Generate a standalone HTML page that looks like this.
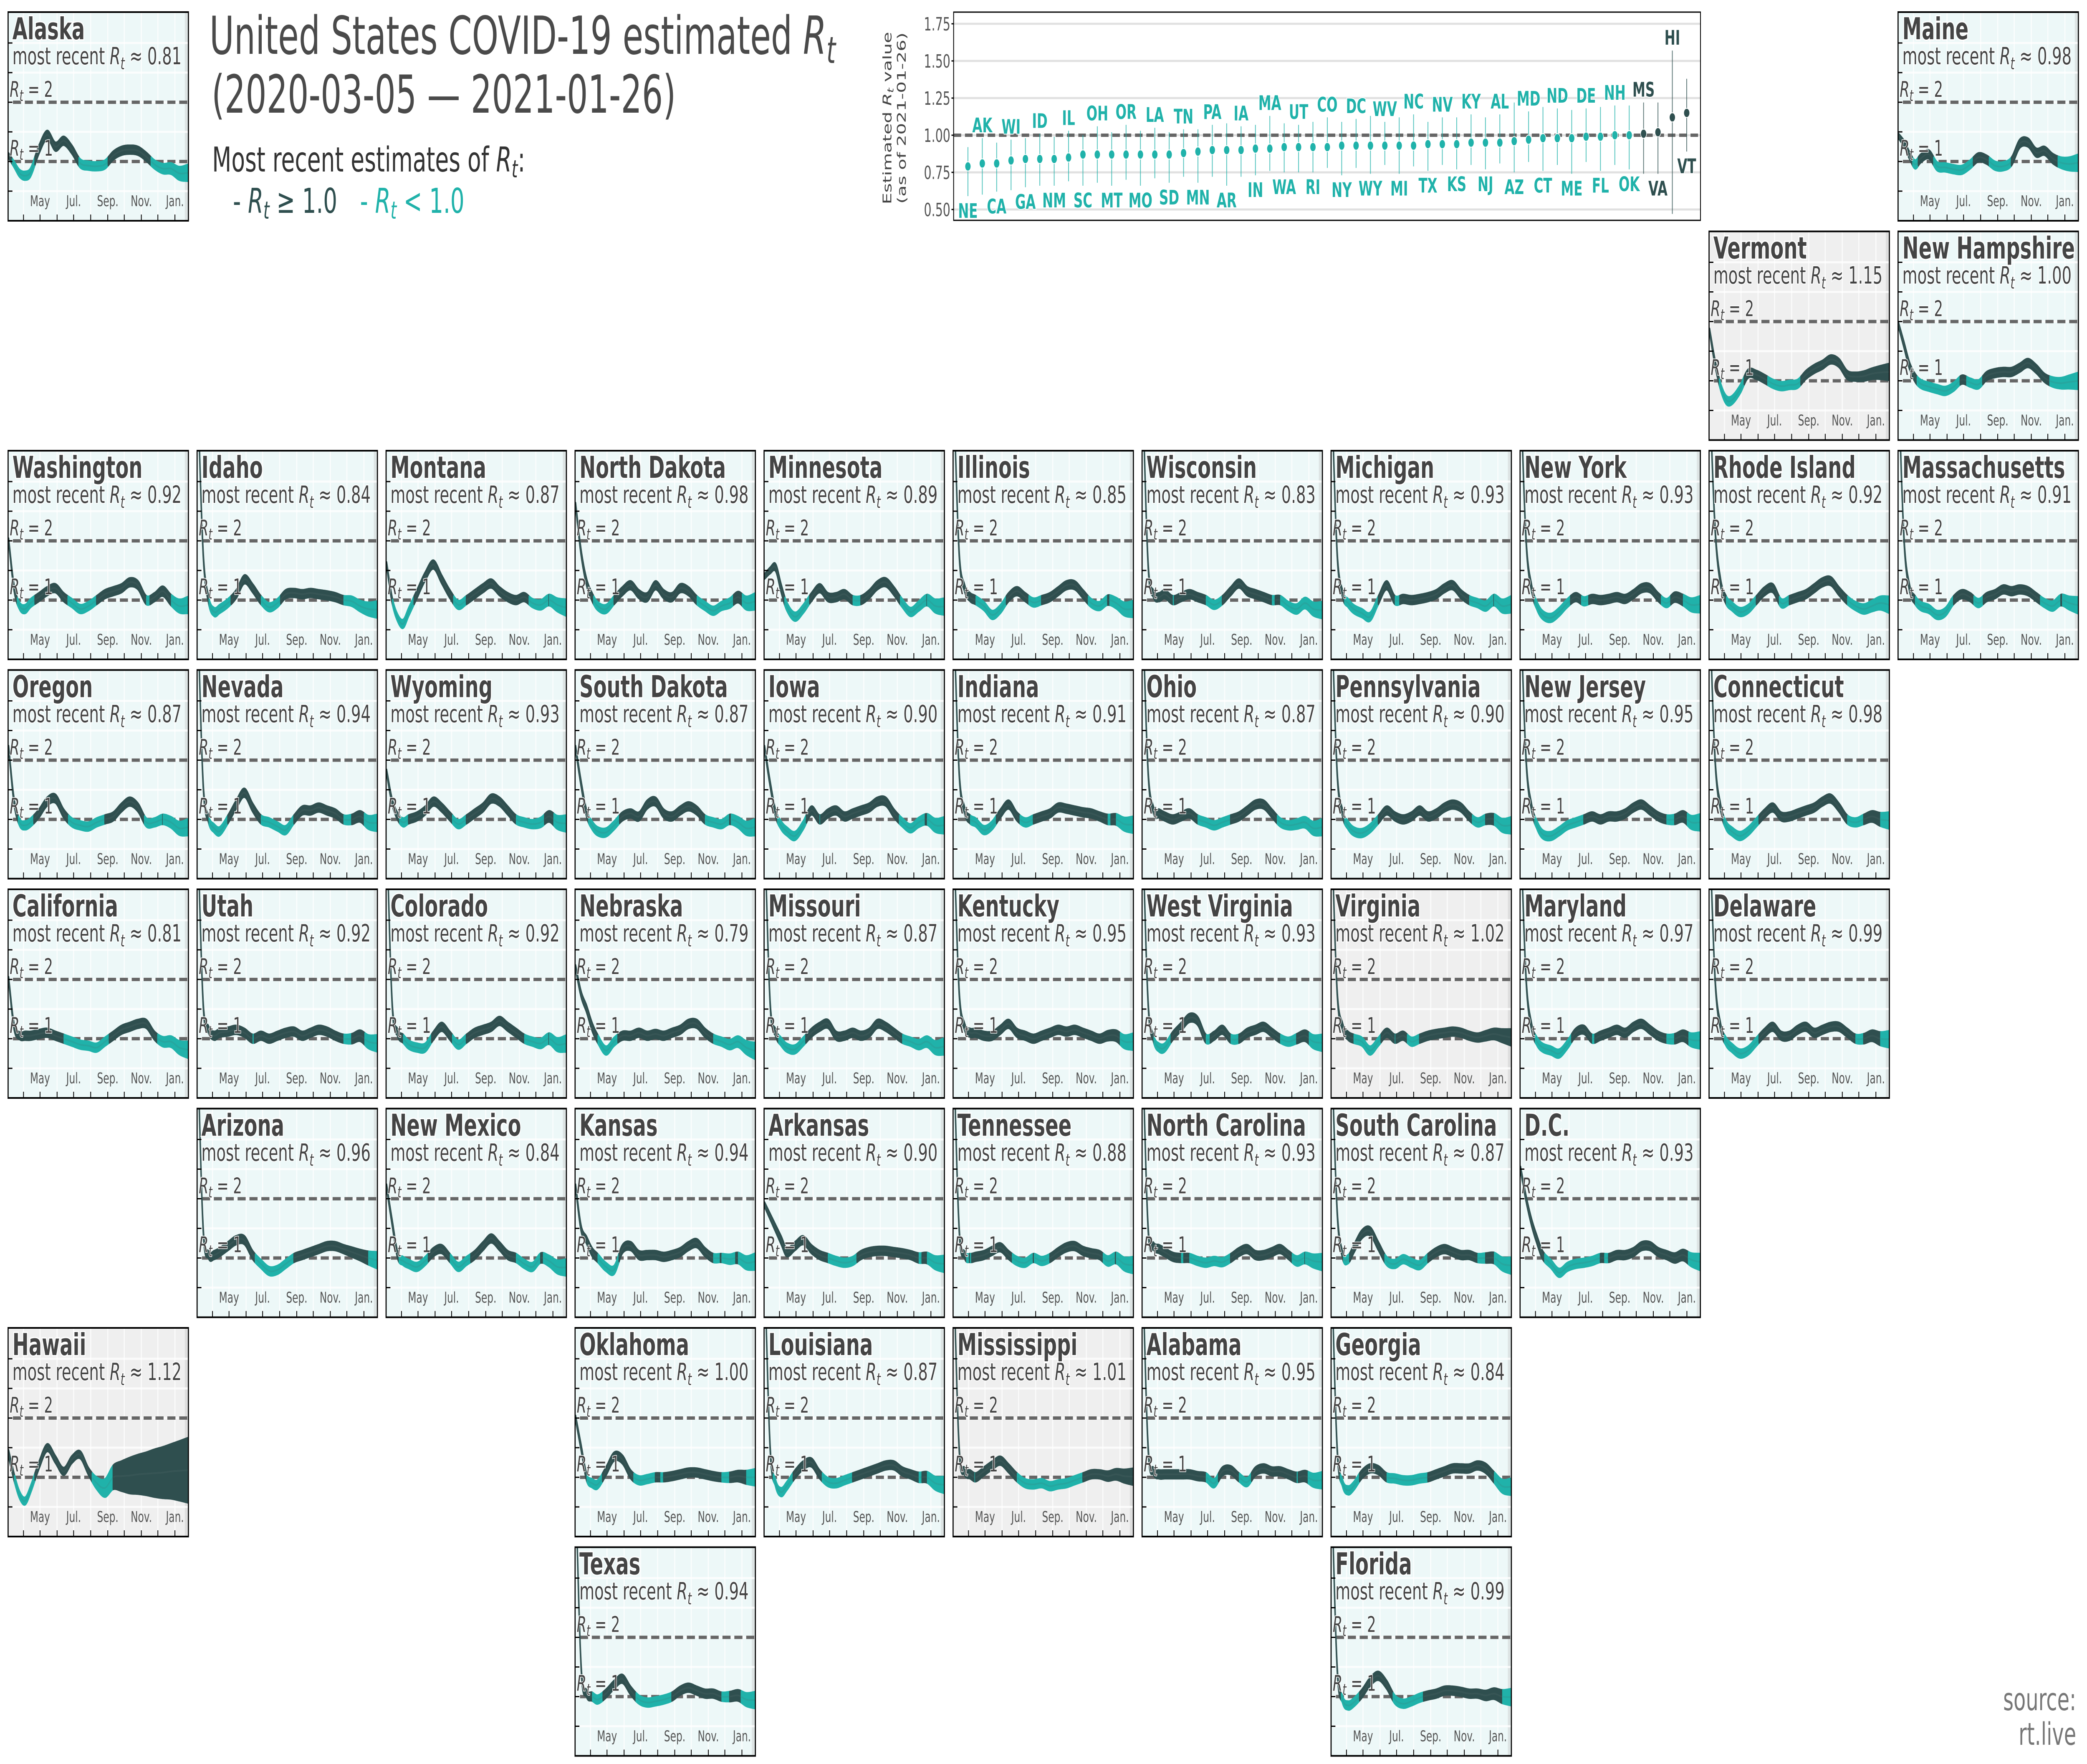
<!DOCTYPE html>
<html><head><meta charset="utf-8"><title>US COVID-19 Rt</title>
<style>
html,body{margin:0;padding:0;background:#fff;overflow:hidden;width:100vw;height:100vh;}
svg{display:block;font-family:"DejaVu Sans","Liberation Sans",sans-serif;width:100vw;height:100vh;}
</style></head>
<body>
<svg id="chart" xmlns="http://www.w3.org/2000/svg" viewBox="0 0 7732 4227" preserveAspectRatio="none">
<rect x="0" y="0" width="7732" height="4227" fill="#ffffff"/>
<g fill="#4a4a4a">
<text x="776" y="129" font-size="126" textLength="2320" lengthAdjust="spacingAndGlyphs">United States COVID-19 estimated <tspan font-style="italic">R</tspan><tspan font-style="italic" font-size="88" dy="22">t</tspan></text>
<text x="784" y="270" font-size="126" textLength="1720" lengthAdjust="spacingAndGlyphs">(2020-03-05 — 2021-01-26)</text>
</g>
<g>
<text x="786" y="411" font-size="82" fill="#333" textLength="1160" lengthAdjust="spacingAndGlyphs">Most recent estimates of <tspan font-style="italic">R</tspan><tspan font-style="italic" font-size="58" dy="14">t</tspan><tspan dy="-14">:</tspan></text>
<text x="863" y="510" font-size="82" fill="#2f4f4f">- <tspan font-style="italic">R</tspan><tspan font-style="italic" font-size="58" dy="14">t</tspan><tspan dy="-14"> ≥ 1.0</tspan></text>
<text x="1334" y="510" font-size="82" fill="#20b2aa">- <tspan font-style="italic">R</tspan><tspan font-style="italic" font-size="58" dy="14">t</tspan><tspan dy="-14"> &lt; 1.0</tspan></text>
</g>
<g fill="#777" font-size="74" text-anchor="end">
<text x="7692" y="4098">source:</text>
<text x="7692" y="4181">rt.live</text>
</g>
<g id="dotchart"></g>
<g id="tiles"></g>
</svg>
<script>
// ---------- shared time axis ----------
const sampleDays = [0,10,20,30,40,55,70,85,100,115,130,145,160,175,190,205,220,235,250,265,280,295,310,327];
const bandHalf = [0.04,0.05,0.06,0.07,0.07,0.07,0.07,0.07,0.07,0.07,0.07,0.07,0.07,0.07,0.07,0.07,0.07,0.07,0.07,0.07,0.08,0.09,0.11,0.14];
const hawaiiBand = [0.06,0.06,0.06,0.06,0.06,0.06,0.06,0.06,0.06,0.06,0.06,0.06,0.10,0.15,0.20,0.25,0.30,0.33,0.36,0.40,0.43,0.46,0.50,0.55];
const monthTickDays = [27,57,88,118,149,180,210,241,271,302];
const monthLabelDays = [57,118,180,241,302];
const monthLabels = ["May","Jul.","Sep.","Nov.","Jan."];
const yGridValues = [0.5,1,1.5,2,2.5,3];

// ---------- per-state Rt series (values at sampleDays) ----------
const rtAK = [1.1,0.95,0.8,0.76,0.82,1.2,1.45,1.25,1.35,1.2,0.97,0.93,0.92,0.95,1.1,1.18,1.2,1.18,1.08,0.95,0.88,0.88,0.8,0.81];
const rtME = [1.43,1.3,1.1,0.95,1.05,1.12,0.92,0.9,0.87,0.86,0.95,1.07,1.03,0.93,0.92,1.0,1.3,1.32,1.15,1.18,1.05,0.98,0.96,0.98];
const rtVT = [1.84,1.3,0.9,0.68,0.67,0.85,1.12,1.1,1.03,0.95,0.91,0.93,0.95,1.1,1.2,1.27,1.36,1.3,1.1,1.07,1.08,1.12,1.14,1.15];
const rtNH = [1.94,1.6,1.25,1.05,0.95,0.9,0.86,0.83,0.9,1.02,0.97,0.94,1.08,1.13,1.15,1.15,1.22,1.3,1.2,1.05,0.98,0.96,0.98,1.0];
const rtWA = [2.0,1.2,0.9,0.85,0.95,1.05,1.15,1.2,1.05,0.95,0.85,0.9,1.0,1.1,1.15,1.2,1.3,1.25,1.0,1.05,1.15,1.0,0.9,0.92];
const rtID = [4.5,1.8,1.0,0.8,0.85,0.95,1.1,1.35,1.2,1.0,0.88,0.95,1.1,1.12,1.1,1.12,1.1,1.08,1.05,1.0,0.98,0.9,0.85,0.84];
const rtMT = [1.6,1.0,0.7,0.6,0.8,1.1,1.4,1.6,1.35,1.1,0.92,1.0,1.1,1.2,1.28,1.15,1.05,1.0,1.05,0.95,0.92,1.0,0.92,0.87];
const rtND = [2.6,1.8,1.3,1.05,0.9,0.85,1.0,1.15,1.25,1.1,1.05,1.25,1.1,1.05,1.2,1.15,1.0,0.9,0.82,0.9,0.95,1.05,0.95,0.98];
const rtMN = [1.4,1.5,1.55,1.2,0.9,0.72,0.85,1.05,1.2,1.05,1.05,1.1,1.0,1.0,1.1,1.25,1.3,1.15,0.95,0.8,0.9,1.0,0.9,0.89];
const rtIL = [4.5,1.8,1.2,1.05,1.0,0.9,0.75,0.85,1.05,1.15,1.05,0.96,1.0,1.05,1.15,1.25,1.25,1.1,0.95,0.9,1.0,0.95,0.85,0.85];
const rtWI = [4.5,1.6,1.1,1.05,1.1,1.0,1.05,1.1,1.05,1.0,0.92,1.0,1.15,1.28,1.15,1.1,1.05,1.0,1.0,0.9,0.85,0.95,0.85,0.83];
const rtMI = [4.5,1.8,1.1,0.95,0.85,0.78,0.72,1.0,1.25,1.0,1.02,1.0,1.02,1.05,1.1,1.2,1.25,1.1,1.0,0.95,0.9,1.0,0.9,0.93];
const rtNY = [4.5,2.0,1.2,0.9,0.75,0.7,0.8,0.95,1.05,0.98,1.02,1.0,1.02,1.05,1.02,1.1,1.2,1.2,1.05,0.95,1.05,1.0,0.92,0.93];
const rtRI = [4.5,2.2,1.3,1.0,0.9,0.8,0.85,1.0,1.15,1.2,0.95,1.0,1.05,1.1,1.2,1.3,1.32,1.15,1.0,0.9,0.85,0.9,0.95,0.92];
const rtMA = [4.5,2.0,1.2,1.0,0.9,0.85,0.75,0.8,1.0,1.1,1.05,0.95,1.05,1.1,1.18,1.15,1.18,1.15,1.05,0.95,0.9,1.0,0.95,0.91];
const rtOR = [2.2,1.3,0.95,0.9,0.95,1.1,1.3,1.35,1.1,0.95,0.9,0.88,0.95,1.0,1.05,1.2,1.3,1.2,0.95,0.95,1.0,0.95,0.85,0.87];
const rtNV = [4.5,1.6,1.0,0.85,0.8,1.0,1.25,1.45,1.2,1.0,0.95,0.88,0.82,1.0,1.15,1.15,1.2,1.15,1.1,1.0,1.0,1.05,0.95,0.94];
const rtWY = [1.8,1.3,1.05,0.95,1.0,1.05,1.15,1.3,1.2,1.05,0.92,1.0,1.1,1.2,1.35,1.3,1.15,1.0,0.95,0.92,0.95,1.05,0.95,0.93];
const rtSD = [2.2,1.6,1.1,0.9,0.8,0.78,0.9,1.05,1.1,1.05,1.25,1.3,1.1,1.05,1.15,1.22,1.15,1.0,0.95,0.92,1.0,0.95,0.85,0.87];
const rtIA = [2.2,1.6,1.1,0.9,0.8,0.72,0.9,1.15,1.0,1.1,1.15,1.05,1.1,1.15,1.2,1.3,1.3,1.1,0.95,0.85,0.95,1.0,0.9,0.9];
const rtIN = [4.5,1.8,1.15,1.0,0.95,0.82,0.9,1.1,1.25,1.05,0.95,1.0,1.05,1.1,1.2,1.18,1.15,1.12,1.1,1.05,1.0,1.0,0.92,0.91];
const rtOH = [4.5,1.8,1.15,1.1,1.05,1.0,1.05,1.1,1.0,0.95,0.9,0.95,1.0,1.05,1.15,1.25,1.25,1.1,0.95,0.9,0.92,0.95,0.85,0.87];
const rtPA = [4.5,1.8,1.1,0.9,0.8,0.77,0.85,1.0,1.15,1.05,1.0,1.05,1.15,1.05,1.1,1.2,1.25,1.2,1.05,0.95,1.0,1.0,0.9,0.9];
const rtNJ = [4.5,2.0,1.2,0.9,0.75,0.72,0.8,0.9,0.95,1.0,1.05,1.0,1.05,1.05,1.1,1.2,1.25,1.15,1.05,1.0,1.0,1.05,0.95,0.95];
const rtCT = [4.5,2.0,1.2,0.9,0.8,0.72,0.8,0.95,1.1,1.2,1.05,1.05,1.1,1.15,1.2,1.3,1.35,1.2,1.0,0.95,1.0,1.05,1.0,0.98];
const rtCA = [2.0,1.2,1.05,1.05,1.05,1.08,1.1,1.05,1.0,0.95,0.9,0.88,0.85,0.95,1.05,1.15,1.2,1.25,1.25,1.05,0.95,0.95,0.85,0.81];
const rtUT = [4.5,1.6,1.15,1.05,1.1,1.12,1.15,1.1,1.0,1.05,1.0,1.05,1.1,1.12,1.05,1.1,1.15,1.12,1.05,1.0,1.0,1.05,0.95,0.92];
const rtCO = [4.5,1.6,1.1,1.0,0.9,0.85,0.85,1.05,1.2,1.05,0.9,1.0,1.1,1.15,1.2,1.3,1.2,1.1,1.0,0.95,0.92,1.0,0.9,0.92];
const rtNE = [2.2,1.75,1.5,1.2,1.0,0.8,0.95,1.05,1.05,1.1,1.05,1.08,1.05,1.1,1.15,1.25,1.25,1.1,1.0,0.95,0.9,0.95,0.85,0.79];
const rtMO = [4.5,1.6,1.1,0.95,0.85,0.82,0.95,1.1,1.2,1.25,1.05,1.05,1.1,1.05,1.1,1.25,1.2,1.1,1.0,0.95,0.9,0.95,0.85,0.87];
const rtKY = [4.5,1.8,1.2,1.1,1.1,1.05,1.05,1.15,1.25,1.1,1.05,1.0,1.05,1.1,1.15,1.12,1.15,1.1,1.05,1.0,1.05,1.05,0.95,0.95];
const rtWV = [4.5,1.6,1.0,0.85,0.85,1.05,1.2,1.35,1.3,1.0,1.05,1.15,1.0,1.0,1.1,1.15,1.2,1.1,1.0,0.95,1.0,1.05,0.95,0.93];
const rtVA = [4.5,1.8,1.2,1.05,1.0,0.95,0.8,0.95,1.1,1.0,1.05,0.95,1.0,1.05,1.08,1.1,1.12,1.1,1.05,1.02,1.05,1.08,1.05,1.02];
const rtMD = [4.5,2.0,1.2,0.95,0.85,0.8,0.75,0.9,1.1,1.15,1.0,1.05,1.1,1.15,1.1,1.2,1.25,1.15,1.05,1.0,1.0,1.05,0.98,0.97];
const rtDE = [4.5,2.0,1.2,0.95,0.85,0.75,0.8,0.95,1.1,1.2,1.05,1.05,1.15,1.2,1.1,1.15,1.2,1.2,1.1,1.0,1.0,1.05,1.0,0.99];
const rtAZ = [4.5,1.5,1.05,1.05,1.1,1.2,1.3,1.3,1.05,0.9,0.78,0.8,0.9,1.0,1.05,1.1,1.15,1.2,1.2,1.15,1.1,1.05,1.0,0.96];
const rtNM = [2.2,1.6,1.05,0.95,0.9,0.85,0.95,1.1,1.15,1.0,0.85,0.95,1.05,1.2,1.33,1.2,1.05,1.0,0.9,0.85,1.0,0.95,0.85,0.84];
const rtKS = [2.2,1.5,1.3,1.1,1.0,0.85,0.8,1.15,1.2,1.05,1.05,1.05,1.02,1.05,1.1,1.2,1.25,1.1,1.0,1.0,0.98,1.0,0.92,0.94];
const rtAR = [1.9,1.7,1.5,1.3,1.1,1.2,1.3,1.15,1.05,1.0,0.95,0.92,0.95,1.05,1.1,1.12,1.12,1.1,1.08,1.05,1.0,1.0,0.92,0.9];
const rtTN = [4.5,1.5,1.05,1.0,1.02,1.05,1.12,1.18,1.05,0.95,0.92,1.0,0.95,1.0,1.1,1.18,1.2,1.12,1.08,1.05,0.95,1.0,0.9,0.88];
const rtNC = [4.5,1.5,1.2,1.15,1.1,1.02,1.0,1.0,0.95,0.92,0.95,0.93,1.0,1.1,1.15,1.05,1.05,1.1,1.15,1.05,0.95,1.0,0.95,0.93];
const rtSC = [4.5,1.8,1.05,0.98,1.15,1.4,1.45,1.2,0.95,0.9,0.98,0.92,0.88,1.0,1.1,1.15,1.1,1.05,1.05,1.0,1.0,1.0,0.9,0.87];
const rtDC = [2.5,2.0,1.6,1.3,1.05,0.9,0.75,0.85,0.9,0.92,0.95,1.0,1.0,1.05,1.05,1.1,1.2,1.2,1.1,1.05,1.0,1.05,0.97,0.93];
const rtHI = [1.4,1.0,0.7,0.6,0.8,1.2,1.5,1.3,1.1,1.3,1.38,1.1,0.9,0.82,1.0,1.02,1.03,1.05,1.06,1.07,1.08,1.1,1.11,1.12];
const rtOK = [2.0,1.5,1.0,0.9,0.88,1.1,1.35,1.3,1.05,0.95,0.97,1.0,1.0,1.02,1.05,1.08,1.08,1.05,1.02,1.0,1.0,1.02,1.0,1.0];
const rtLA = [4.5,1.5,0.9,0.75,0.85,1.05,1.2,1.25,1.05,0.92,0.9,0.95,1.0,1.05,1.1,1.15,1.2,1.2,1.1,1.05,1.0,1.0,0.9,0.87];
const rtMS = [4.5,1.5,1.1,1.05,1.0,1.1,1.2,1.28,1.15,1.0,0.9,0.88,0.9,0.85,0.88,0.9,0.95,1.0,1.05,1.05,1.02,1.05,1.02,1.01];
const rtAL = [4.5,1.5,1.1,1.05,1.05,1.05,1.05,1.05,1.02,1.0,0.9,1.1,1.12,1.0,0.92,1.1,1.15,1.1,1.1,1.05,1.0,1.02,0.95,0.95];
const rtGA = [4.5,1.5,0.9,0.78,0.85,1.05,1.15,1.12,1.0,0.98,0.95,0.95,0.98,1.0,1.05,1.1,1.15,1.15,1.15,1.2,1.15,1.0,0.85,0.84];
const rtTX = [4.5,1.5,1.05,1.0,0.95,1.05,1.2,1.3,1.1,0.95,0.9,0.92,0.95,1.0,1.1,1.15,1.1,1.05,1.05,1.0,1.0,1.02,0.95,0.94];
const rtFL = [4.5,1.5,0.95,0.85,0.9,1.05,1.25,1.35,1.2,0.95,0.88,0.92,0.98,1.02,1.05,1.1,1.1,1.08,1.05,1.05,1.02,1.05,1.0,0.99];

// ---------- state list (name, latest printed value, series) ----------
const stateNames = ["Alaska","Maine","Vermont","New Hampshire","Washington","Idaho","Montana","North Dakota","Minnesota","Illinois","Wisconsin","Michigan","New York","Rhode Island","Massachusetts","Oregon","Nevada","Wyoming","South Dakota","Iowa","Indiana","Ohio","Pennsylvania","New Jersey","Connecticut","California","Utah","Colorado","Nebraska","Missouri","Kentucky","West Virginia","Virginia","Maryland","Delaware","Arizona","New Mexico","Kansas","Arkansas","Tennessee","North Carolina","South Carolina","D.C.","Hawaii","Oklahoma","Louisiana","Mississippi","Alabama","Georgia","Texas","Florida"];
const stateLatest = [0.81,0.98,1.15,1.00,0.92,0.84,0.87,0.98,0.89,0.85,0.83,0.93,0.93,0.92,0.91,0.87,0.94,0.93,0.87,0.90,0.91,0.87,0.90,0.95,0.98,0.81,0.92,0.92,0.79,0.87,0.95,0.93,1.02,0.97,0.99,0.96,0.84,0.94,0.90,0.88,0.93,0.87,0.93,1.12,1.00,0.87,1.01,0.95,0.84,0.94,0.99];
const stateSeries = [rtAK,rtME,rtVT,rtNH,rtWA,rtID,rtMT,rtND,rtMN,rtIL,rtWI,rtMI,rtNY,rtRI,rtMA,rtOR,rtNV,rtWY,rtSD,rtIA,rtIN,rtOH,rtPA,rtNJ,rtCT,rtCA,rtUT,rtCO,rtNE,rtMO,rtKY,rtWV,rtVA,rtMD,rtDE,rtAZ,rtNM,rtKS,rtAR,rtTN,rtNC,rtSC,rtDC,rtHI,rtOK,rtLA,rtMS,rtAL,rtGA,rtTX,rtFL];
// map-grid layout [col,row] (layout, not data)
const tileGrid = [[0,0],[10,0],[9,1],[10,1],[0,2],[1,2],[2,2],[3,2],[4,2],[5,2],[6,2],[7,2],[8,2],[9,2],[10,2],[0,3],[1,3],[2,3],[3,3],[4,3],[5,3],[6,3],[7,3],[8,3],[9,3],[0,4],[1,4],[2,4],[3,4],[4,4],[5,4],[6,4],[7,4],[8,4],[9,4],[1,5],[2,5],[3,5],[4,5],[5,5],[6,5],[7,5],[8,5],[0,6],[3,6],[4,6],[5,6],[6,6],[7,6],[3,7],[7,7]];

// ---------- dot chart data ----------
const dotCodes = ["NE","AK","CA","WI","GA","ID","NM","IL","SC","OH","MT","OR","MO","LA","SD","TN","MN","PA","AR","IA","IN","MA","WA","UT","RI","CO","NY","DC","WY","WV","MI","NC","TX","NV","KS","KY","NJ","AL","AZ","MD","CT","ND","ME","DE","FL","NH","OK","MS","VA","HI","VT"];
const dotValues = [0.79,0.81,0.81,0.83,0.84,0.84,0.84,0.85,0.87,0.87,0.87,0.87,0.87,0.87,0.87,0.88,0.89,0.90,0.90,0.90,0.91,0.91,0.92,0.92,0.92,0.92,0.93,0.93,0.93,0.93,0.93,0.93,0.94,0.94,0.94,0.95,0.95,0.95,0.96,0.97,0.98,0.98,0.98,0.99,0.99,1.00,1.00,1.01,1.02,1.12,1.15];
const dotHi = [0.92,0.98,0.95,0.97,0.98,1.01,0.99,1.03,1.00,1.06,1.02,1.07,1.03,1.05,1.02,1.04,1.04,1.07,1.08,1.06,1.07,1.13,1.08,1.07,1.09,1.12,1.09,1.11,1.13,1.09,1.12,1.14,1.09,1.12,1.12,1.14,1.12,1.14,1.22,1.16,1.19,1.18,1.17,1.18,1.19,1.20,1.20,1.22,1.22,1.57,1.38];
const dotLo = [0.59,0.60,0.62,0.63,0.65,0.66,0.66,0.69,0.66,0.68,0.66,0.70,0.66,0.71,0.68,0.72,0.68,0.72,0.66,0.72,0.73,0.76,0.75,0.75,0.75,0.78,0.73,0.78,0.74,0.80,0.74,0.79,0.76,0.80,0.77,0.80,0.77,0.81,0.75,0.82,0.76,0.80,0.74,0.82,0.76,0.80,0.77,0.74,0.74,0.47,0.89];
const dotTicks = [0.5,0.75,1.0,1.25,1.5,1.75];
const dotTickLabels = ["0.50","0.75","1.00","1.25","1.50","1.75"];

const NS = 'http://www.w3.org/2000/svg';
const DARK = '#2f4f4f', TEAL = '#20b2aa';
function mk(tag, attrs, parent){
  const e = document.createElementNS(NS, tag);
  for (const k in attrs) e.setAttribute(k, attrs[k]);
  parent.appendChild(e);
  return e;
}
function interp(arr, d){
  const D = sampleDays; const n = D.length;
  if (d <= D[0]) return arr[0];
  if (d >= D[n-1]) return arr[n-1];
  let k = 0; while (D[k+1] < d) k++;
  const t0 = D[k], t1 = D[k+1], h = t1 - t0, s = (d - t0) / h;
  const tan = i => {
    if (i === 0) return (arr[1]-arr[0])/(D[1]-D[0]);
    if (i === n-1) return (arr[n-1]-arr[n-2])/(D[n-1]-D[n-2]);
    return (arr[i+1]-arr[i-1])/(D[i+1]-D[i-1]);
  };
  const m0 = tan(k)*h, m1 = tan(k+1)*h;
  const s2 = s*s, s3 = s2*s;
  return (2*s3-3*s2+1)*arr[k] + (s3-2*s2+s)*m0 + (-2*s3+3*s2)*arr[k+1] + (s3-s2)*m1;
}
function slug(s){ return s.toLowerCase().replace(/[^a-z]+/g,'-').replace(/-+$/,''); }

// ---------- tiles ----------
const tilesG = document.getElementById('tiles');
const TW = 668, TH = 500;
stateNames.forEach((name, i) => {
  const col = tileGrid[i][0], row = tileGrid[i][1];
  const L = 30 + col*700.2, T = 29 + row*525.5;
  const X = d => L + 2 + d*2.04;
  const Y = v => T + TH - v*142;
  const series = stateSeries[i];
  const latest = stateLatest[i];
  const band = name === 'Hawaii' ? hawaiiBand : bandHalf;
  const above = latest > 1.0;
  const g = mk('g', {}, tilesG);
  
  
  const bg = mk('rect', {x:L, y:T, width:TW, height:TH, fill: above ? '#efefef' : '#edf8f8'}, g);
  
  
  const recent = mk('rect', {x:X(320), y:T, width:L+TW-X(320), height:TH, fill: above ? '#dedede' : '#dde4e4'}, g);
  
  
  monthTickDays.forEach(d => {
    const gl = mk('line', {x1:X(d), x2:X(d), y1:T, y2:T+TH, stroke:'#ffffff', 'stroke-width':4, opacity:0.8}, g);
    
    
  });
  yGridValues.forEach(v => {
    const gl = mk('line', {x1:L, x2:L+TW, y1:Y(v), y2:Y(v), stroke:'#ffffff', 'stroke-width':5, opacity:0.8}, g);
    
    
  });
  [1,2].forEach(v => {
    const dl = mk('line', {x1:L+18, x2:L+TW, y1:Y(v), y2:Y(v), stroke:'#666', 'stroke-width':8, 'stroke-dasharray':'30 14'}, g);
    
    
  });
  const cid = 'clip' + i;
  const cp = mk('clipPath', {id:cid}, g);
  mk('rect', {x:L, y:T, width:TW, height:TH}, cp);
  const curveG = mk('g', {'clip-path':'url(#'+cid+')'}, g);
  
  
  const pts = [];
  for (let d = 0; d <= 327; d++) pts.push({d, m: interp(series, d), h: interp(band, d)});
  let start = 0;
  while (start < pts.length) {
    const c = pts[start].m >= 1;
    let end = start;
    while (end + 1 < pts.length && (pts[end+1].m >= 1) === c) end++;
    const last = Math.min(end + 1, pts.length - 1);
    const seg = pts.slice(start, last + 1);
    let dstr = seg.map((p, k) => (k ? 'L' : 'M') + X(p.d).toFixed(1) + ' ' + Y(p.m + p.h).toFixed(1)).join(' ');
    dstr += ' ' + seg.slice().reverse().map(p => 'L' + X(p.d).toFixed(1) + ' ' + Y(p.m - p.h).toFixed(1)).join(' ') + ' Z';
    const poly = mk('path', {d: dstr, fill: c ? DARK : TEAL, stroke: c ? DARK : TEAL, 'stroke-width': 5, 'stroke-linejoin':'round'}, curveG);
    
    
    const ml = mk('path', {d: seg.map((p, k) => (k ? 'L' : 'M') + X(p.d).toFixed(1) + ' ' + Y(p.m).toFixed(1)).join(' '), fill:'none', stroke: c ? '#3e5a5a' : '#2c9f98', 'stroke-width':4, opacity:0.6}, curveG);
    
    
    start = end + 1;
  }
  const title = mk('text', {x:L+16, y:T+65, 'font-size':72, 'font-weight':'bold', fill:'#444', stroke:'#ffffff', 'stroke-width':6, 'paint-order':'stroke'}, g);
  
  
  title.textContent = name;
  const sub = mk('text', {x:L+16, y:T+125, 'font-size':57, fill:'#444', stroke:'#ffffff', 'stroke-width':4, 'paint-order':'stroke'}, g);
  
  
  sub.innerHTML = 'most recent <tspan font-style="italic">R</tspan><tspan font-style="italic" font-size="40" dy="12">t</tspan><tspan dy="-12"> ≈ ' + latest.toFixed(2) + '</tspan>';
  [[2, 203], [1, 344]].forEach(([v, off]) => {
    const lab = mk('text', {x:L+6, y:T+off, 'font-size':52, fill:'#444', stroke:'#ffffff', 'stroke-width':3, 'paint-order':'stroke'}, g);
    
    
    lab.innerHTML = '<tspan font-style="italic">R</tspan><tspan font-style="italic" font-size="37" dy="10">t</tspan><tspan dy="-10"> = ' + v + '</tspan>';
  });
  monthLabelDays.forEach((d, k) => {
    const ml = mk('text', {x:X(d), y:T+465, 'font-size':36, fill:'#555', 'text-anchor':'middle'}, g);
    
    
    ml.textContent = monthLabels[k];
  });
  monthTickDays.forEach(d => {
    const tk = mk('line', {x1:X(d), x2:X(d), y1:T+TH-15, y2:T+TH, stroke:'#000', 'stroke-width':3}, g);
    
    
  });
  yGridValues.forEach(v => {
    const tk = mk('line', {x1:L, x2:L+16, y1:Y(v), y2:Y(v), stroke:'#000', 'stroke-width':3}, g);
    
    
  });
  const border = mk('rect', {x:L, y:T, width:TW, height:TH, fill:'none', stroke:'#000', 'stroke-width':4}, g);
  
  
});

// ---------- dot chart ----------
const dg = document.getElementById('dotchart');
const DL = 3533, DR = 6300, DT = 29, DB = 528;
const dY = v => 324 - (v - 1) * 356;
const dX = i => 3586 + i * 53.26;
const dbg = mk('rect', {x:DL, y:DT, width:DR-DL, height:DB-DT, fill:'#ffffff'}, dg);


dotTicks.forEach((v, k) => {
  const gl = mk('line', {x1:DL, x2:DR, y1:dY(v), y2:dY(v), stroke:'#e0e0e0', 'stroke-width':5}, dg);
  
  
  const tk = mk('line', {x1:DL-8, x2:DL, y1:dY(v), y2:dY(v), stroke:'#000', 'stroke-width':3}, dg);
  
  
  const tl = mk('text', {x:DL-12, y:dY(v)+16, 'font-size':44, fill:'#555', 'text-anchor':'end'}, dg);
  
  
  tl.textContent = dotTickLabels[k];
});
const ref = mk('line', {x1:DL, x2:DR, y1:dY(1), y2:dY(1), stroke:'#666', 'stroke-width':8, 'stroke-dasharray':'28 14'}, dg);


dotCodes.forEach((code, i) => {
  const col = dotValues[i] > 1.0 ? DARK : TEAL;
  const eb = mk('line', {x1:dX(i), x2:dX(i), y1:dY(dotHi[i]), y2:dY(dotLo[i]), stroke:col, 'stroke-width':3, opacity:0.75}, dg);
  
  
  const dot = mk('circle', {cx:dX(i), cy:dY(dotValues[i]), r:11, fill:col, stroke:'#ffffff', 'stroke-width':2}, dg);
  
  
  const up = i % 2 === 1;
  const lab = mk('text', {x:dX(i), y: up ? dY(dotHi[i]) - 14 : dY(dotLo[i]) + 52, 'font-size':48, 'font-weight':'bold', fill:col, 'text-anchor':'middle', stroke:'#ffffff', 'stroke-width':4, 'paint-order':'stroke'}, dg);
  
  
  lab.textContent = code;
});
const dframe = mk('rect', {x:DL, y:DT, width:DR-DL, height:DB-DT, fill:'none', stroke:'#000', 'stroke-width':3}, dg);


const yl1 = mk('text', {x:0, y:0, 'font-size':44, fill:'#444', 'text-anchor':'middle', transform:'translate(3302,283) rotate(-90)'}, dg);


yl1.innerHTML = 'Estimated <tspan font-style="italic">R</tspan><tspan font-style="italic" font-size="31" dy="8">t</tspan><tspan dy="-8"> value</tspan>';
const yl2 = mk('text', {x:0, y:0, 'font-size':44, fill:'#444', 'text-anchor':'middle', transform:'translate(3356,283) rotate(-90)'}, dg);


yl2.textContent = '(as of 2021-01-26)';
</script>
</body></html>
